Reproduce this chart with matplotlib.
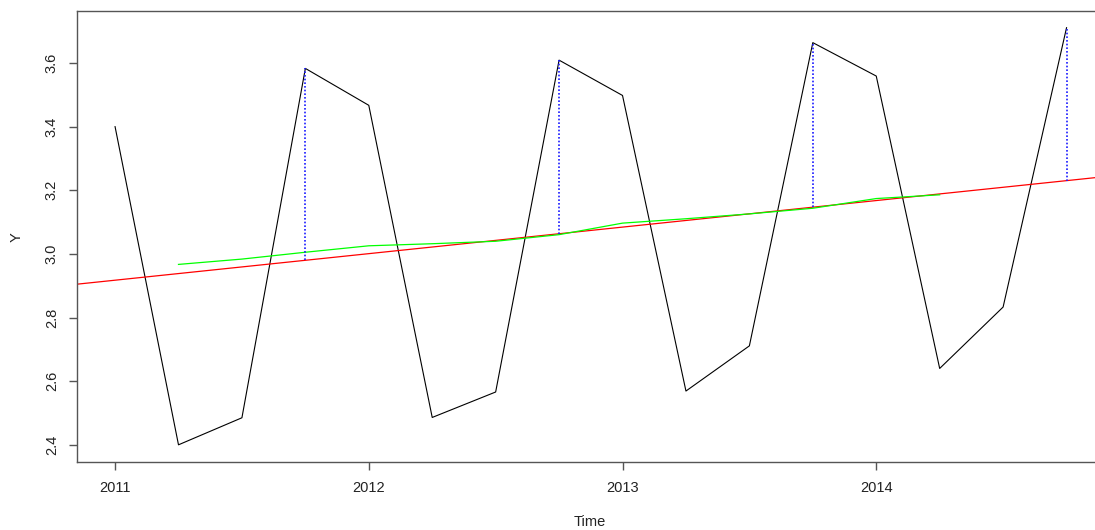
import numpy as np
import matplotlib
matplotlib.use("Agg")
import matplotlib.pyplot as plt

# quarterly series, 2011 Q1 .. 2014 Q4
start_year = 2011
freq = 4
y_values = [3.400, 2.400, 2.485, 3.583,
            3.467, 2.486, 2.566, 3.609,
            3.498, 2.569, 2.711, 3.664,
            3.559, 2.640, 2.833, 3.711]
year_ticks = [2011, 2012, 2013, 2014]
y_ticks = [2.4, 2.6, 2.8, 3.0, 3.2, 3.4, 3.6]

y = np.array(y_values)
t = start_year + np.arange(len(y)) / freq

# linear trend
slope, intercept = np.polyfit(t, y, 1)
fitted = intercept + slope * t

# 4-term moving average (even length -> shifted one step forward, like R's filter sides=2)
ma = np.convolve(y, np.ones(4) / 4, mode="valid")
t_ma = t[1:1 + len(ma)]

# fourth-quarter points
q4 = np.arange(len(y)) % freq == 3

plt.rcParams["font.family"] = ["Liberation Sans", "DejaVu Sans"]
fig = plt.figure(figsize=(10.95, 5.30), dpi=100)
# R-style plot region; right side runs past the edge of the image
W, H = 1095, 530
left, right, top, bottom = 77, 1104.6, 11, 461.5
ax = fig.add_axes([left / W, (H - bottom) / H, (right - left) / W, (bottom - top) / H])

ax.plot(t, y, color="black", lw=0.8)
ax.axline((t[0], fitted[0]), slope=slope, color="red", lw=0.9)
ax.plot(t_ma, ma, color="#00FF00", lw=0.9)
ax.vlines(t[q4], fitted[q4], y[q4], colors="#1a1aff", linestyles=(0, (1, 1.2)), lw=1.2)

# R default axis extension of 4%
xr = t[-1] - t[0]
yr = y.max() - y.min()
ax.set_xlim(t[0] - 0.04 * xr, t[-1] + 0.04 * xr)
ax.set_ylim(y.min() - 0.04 * yr, y.max() + 0.04 * yr)

ax.set_xticks(year_ticks)
ax.set_xticklabels([str(v) for v in year_ticks])
ax.set_yticks(y_ticks)
ax.set_yticklabels([f"{v:.1f}" for v in y_ticks], rotation=90, va="center")

edge = "#555555"
for s in ax.spines.values():
    s.set_color(edge)
    s.set_linewidth(1.0)
ax.tick_params(axis="both", length=6, width=1.0, color=edge, labelsize=10.5, labelcolor="#222222")
ax.tick_params(axis="x", pad=8)
ax.tick_params(axis="y", pad=7)

fig.text(590 / W, 1 - 522 / H, "Time", ha="center", va="center", fontsize=10.5, color="#222222")
fig.text(17 / W, 1 - 237 / H, "Y", ha="center", va="center", rotation=90, fontsize=10.5, color="#222222")

fig.savefig("out.png", dpi=100)
